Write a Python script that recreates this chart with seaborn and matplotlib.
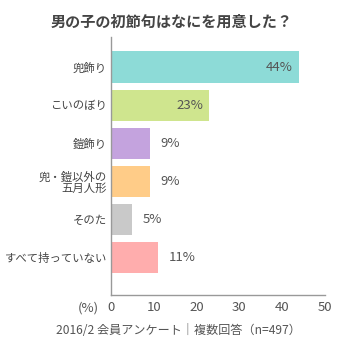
import matplotlib
matplotlib.use("Agg")
import matplotlib.pyplot as plt
import seaborn as sns
import pandas as pd

categories = ["兜飾り", "こいのぼり", "鎧飾り", "兜・鎧以外の\n五月人形", "そのた", "すべて持っていない"]
values = [44, 23, 9, 9, 5, 11]
colors = ["#8ddbd7", "#cfe58e", "#c4a3de", "#ffcc88", "#c9c9c9", "#ffadad"]
xticks = [0, 10, 20, 30, 40, 50]
title = "男の子の初節句はなにを用意した？"
footnote = "2016/2 会員アンケート｜複数回答（n=497）"

sns.set_theme(style="white")
plt.rcParams['font.family'] = ['Noto Sans CJK JP', 'DejaVu Sans']

df = pd.DataFrame({"cat": categories, "val": values})

fig = plt.figure(figsize=(3.44, 3.44), dpi=100)
ax = fig.add_axes([111/344, 1 - 295/344, (325 - 111)/344, (295 - 37)/344])

sns.barplot(data=df, x="val", y="cat", hue="cat", palette=colors, legend=False,
            orient="h", width=0.82, ax=ax, edgecolor="none", saturation=1)

ax.set_xlim(0, 50)
ax.set_ylim(5.99, -0.79)
ax.set_xticks(xticks)
ax.set_xticklabels([str(t) for t in xticks], fontsize=9.5, color="#555555")
ax.tick_params(axis="x", direction="in", length=5, width=0.8, color="#999999", pad=4)
ax.tick_params(axis="y", length=0, pad=3, labelsize=8.2, labelcolor="#444444")
ax.set_xlabel("")
ax.set_ylabel("")
for lbl in ax.get_yticklabels():
    lbl.set_linespacing(1.05)
    lbl.set_horizontalalignment("right")

for s in ["top", "right"]:
    ax.spines[s].set_visible(False)
for s in ["left", "bottom"]:
    ax.spines[s].set_color("#999999")
    ax.spines[s].set_linewidth(1.0)

for i, v in enumerate(values):
    if v > 15:
        ax.text(v - 1.5, i, f"{v}%", ha="right", va="center", fontsize=9.5, color="#555555")
    else:
        ax.text(v + 2.5, i, f"{v}%", ha="left", va="center", fontsize=9.5, color="#555555")

fig.text(88/344, 1 - 308/344, "(%)", ha="center", va="center", fontsize=9.5, color="#555555")
fig.text(172/344, 1 - 22/344, title, ha="center", va="center", fontsize=10.9,
         fontweight="bold", color="#444444")
fig.text(178/344, 1 - 330/344, footnote, ha="center", va="center", fontsize=8.7, color="#555555")

fig.savefig("out.png", dpi=100)
